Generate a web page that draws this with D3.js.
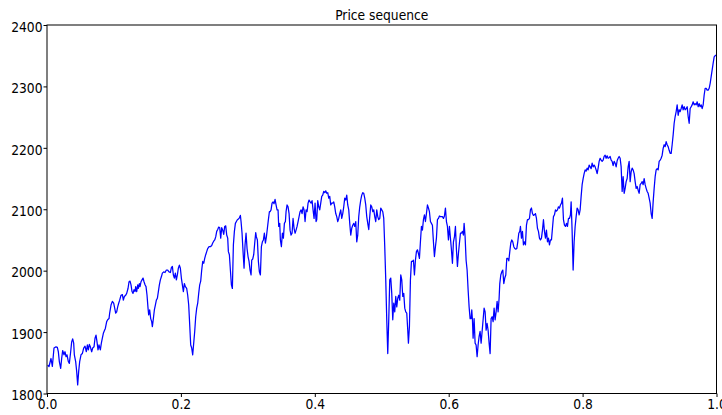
<!DOCTYPE html>
<html>
<head>
<meta charset="utf-8">
<script src="https://cdn.jsdelivr.net/npm/d3@7"></script>
<style>
  html, body { margin: 0; padding: 0; background: #fff; }
  svg { display: block; }
  text { font-family: "DejaVu Sans", sans-serif; fill: #000; }
</style>
</head>
<body>
<svg id="chart" width="722" height="415"></svg>
<script>
// Position of each price along the sequence, on a grid of STEP_COUNT steps.
const STEP_COUNT = 2008;
const steps = [
  2,6,12,16,21,27,31,34,37,41, 44,47,51,54,57,60,64,67,71,74,
  77,80,82,86,89,92,95,98,102,106, 110,114,118,121,124,127,130,134,137,141,
  144,147,150,153,156,160,163,166,169,172, 175,179,182,186,188,192,196,200,203,206,
  209,212,215,218,222,226,229,232,236,239, 243,246,249,252,255,258,261,264,266,269,
  272,274,277,279,282,285,288,291,294,297, 300,303,305,308,311,314,316,319,322,325,
  328,331,334,337,340,343,346,350,354,358, 362,366,370,373,376,379,382,385,388,391,
  394,397,400,403,406,409,412,415,419,422, 425,428,431,434,437,440,443,446,449,452,
  455,458,461,464,467,470,473,476,479,482, 486,490,494,497,500,503,506,509,512,515,
  518,521,524,527,530,533,536,539,542,544, 547,550,553,556,559,562,565,568,571,574,
  577,580,582,585,588,591,594,597,600,603, 606,609,612,614,617,620,623,626,628,631,
  634,637,640,643,646,649,652,655,658,661, 664,667,
  669,672,675,678,681,684,687,690,693,695, 698,700,703,706,709,712,715,717,720,723,
  726,729,732,735,738,741,744,747,750,753, 756,759,762,765,768,771,774,777,780,783,
  786,789,792,795,798,801,804,807,809,812, 815,818,821,824,827,830,833,836,839,842,
  845,848,851,854,857,860,863,866,869,872, 875,878,881,884,887,890,893,896,899,902,
  905,908,911,914,917,920,923,926,929,932, 935,938,941,944,947,950,953,956,959,962,
  965,968,971,974,977,980,983,986,989,992, 995,998,1001,1004,1007,1010,1013,1016,1019,1022,
  1025,1028,1031,1034,1037,1040,1043,1046,1049,1052, 1055,1058,1061,1064,1067,1070,1073,1076,1079,1082,
  1084,1087,1090,1093,1096,1099,1102,1105,1108,1111, 1114,1117,1120,1123,1126,1129,1132,1135,1138,1141,
  1144,1147,1150,1153,1156,1159,1162,1165,1168,1171, 1174,1177,1180,1183,1186,1189,1192,1195,1198,1201,
  1204,1207,1210,1213,1216,1219,1222,1225,1228,1231, 1234,1237,1240,1243,1246,1249,1251,1254,1257,1260,
  1263,1266,1269,1272,1274,1276,1278,1281,1284,1287, 1290,1293,1296,1299,1302,1305,1308,1311,1314,1317,
  1320,1323,1326,1329,
  1332,1335,1338,1341,1344,1347,1350,1353,1356,1358, 1361,1364,1367,1370,1373,1376,1379,1382,1385,1388,
  1391,1394,1397,1400,1403,1406,1409,1412,1415,1418, 1420,1423,1426,1429,1432,1435,1438,1441,1444,1447,
  1450,1453,1456,1459,1462,1465,1468,1471,1474,1477, 1480,1483,1486,1489,1492,1495,1498,1501,1504,1507,
  1510,1513,1516,1519,1522,1525,1528,1531,1534,1537, 1540,1543,1546,1549,1552,1555,1558,1561,1564,1567,
  1570,1572,1575,1578,1581,1584,1587,1590,1593,1596, 1599,1602,1605,1608,1611,1614,1617,1620,1623,1626,
  1629,1632,1635,1638,1641,1644,1647,1650,1653,1656, 1659,1662,1665,1668,1671,1674,1677,1680,1683,1686,
  1689,1692,1695,1698,1701,1704,1707,1710,1713,1716, 1719,1722,1725,1728,1731,1734,1737,1740,1743,1746,
  1749,1752,1755,1758,1761,1764,1767,1770,1773,1776, 1779,1782,1785,1788,1791,1794,1797,1800,1803,1806,
  1809,1812,1815,1818,1821,1824,1827,1830,1833,1836, 1839,1842,1845,1848,1851,1854,1857,1860,1863,1866,
  1869,1872,1875,1878,1881,1884,1887,1890,1893,1896, 1899,1902,1905,1908,1911,1914,1917,1920,1923,1926,
  1929,1932,1935,1938,1941,1944,1947,1950,1953,1956, 1959,1962,1965,1968,1971,1974,1977,1980,1983,1986,
  1989,1992,1995,1998,2001,2004,2007
];

// Price at each step.
const prices = [
  1846,1844,1857,1844,1874,1876,1875,1868,1852,1841, 1857,1870,1863,1868,1860,1863,1852,1849,1868,1884,
  1889,1882,1863,1852,1836,1814,1836,1852,1863,1865, 1874,1877,1868,1879,1871,1880,1876,1868,1874,1876,
  1890,1895,1884,1871,1879,1871,1882,1890,1898,1902, 1906,1917,1920,1922,1931,1944,1950,1947,1939,1931,
  1933,1941,1947,1952,1960,1961,1952,1958,1960,1963, 1971,1982,1983,1977,1966,1963,1969,1966,1974,1966,
  1977,1971,1979,1974,1982,1985,1988,1982,1977,1974, 1960,1939,1928,1936,1922,1917,1909,1922,1936,1944,
  1952,1955,1966,1977,1985,1990,1996,1998,1997,2001, 2001,1998,1997,2005,2007,1993,1988,1996,1985,1993,
  2004,2009,2004,1988,1977,1966,1979,1974,1971,1960, 1944,1912,1879,1874,1863,1882,1901,1925,1939,1947,
  1963,1977,1983,2001,2015,2012,2020,2026,2031,2036, 2039,2039,2041,2045,2048,2050,2055,2064,2067,2071,
  2070,2053,2070,2066,2059,2072,2073,2058,2053,2031, 2026,2001,1977,1971,2042,2064,2077,2080,2083,2084,
  2086,2090,2080,2061,2031,2004,2042,2061,2036,2023, 2015,2001,1993,2017,2019,2026,2045,2062,2055,2050,
  2015,1998,1993,2039,2047,2050,2061,2045,2055,2069, 2083,2096,
  2096,2099,2110,2112,2109,2116,2107,2099,2099,2072, 2077,2050,2039,2061,2053,2077,2080,2096,2107,2104,
  2093,2066,2058,2061,2085,2069,2061,2066,2072,2080, 2088,2096,2099,2093,2104,2099,2080,2099,2096,2110,
  2115,2112,2110,2114,2099,2085,2110,2080,2083,2114, 2104,2099,2110,2121,2123,2129,2127,2130,2126,2127,
  2118,2121,2107,2110,2110,2112,2104,2093,2088,2080, 2085,2093,2099,2085,2093,2104,2118,2115,2123,2107,
  2099,2077,2058,2069,2074,2077,2072,2080,2047,2058, 2088,2104,2115,2123,2127,2126,2118,2107,2088,2077,
  2067,2088,2107,2104,2096,2099,2088,2080,2099,2088, 2083,2085,2102,2099,2096,2085,2039,1985,1920,1865,
  1920,1985,1988,1963,1920,1947,1933,1958,1941,1955, 1960,1952,1993,1985,1958,1963,1939,1933,1931,1903,
  1882,1909,1985,2015,2015,2017,1993,2017,2031,2034, 2028,2020,2047,2072,2066,2083,2091,2080,2093,2107,
  2102,2096,2080,2077,2074,2047,2023,2039,2053,2083, 2085,2089,2088,2088,2088,2085,2089,2102,2080,2072,
  2050,2072,2053,2034,2012,2047,2055,2072,2034,2007, 2028,2045,2061,2061,2064,2058,2077,2055,2017,2001,
  1969,1941,1922,1922,1936,1920,1890,1922,1882,1879, 1860,1879,1893,1901,1882,1901,1920,1939,1933,1903,
  1914,1903,1882,1865,
  1922,1925,1917,1939,1920,1933,1950,1933,1955,1979, 1993,1998,2001,1979,1988,1993,2020,2020,2016,2031,
  2045,2050,2047,2039,2036,2035,2036,2047,2061,2064, 2072,2053,2064,2042,2047,2042,2074,2083,2083,2085,
  2099,2102,2093,2090,2091,2093,2085,2069,2064,2053, 2050,2053,2066,2083,2064,2053,2066,2047,2053,2042,
  2050,2050,2069,2088,2091,2099,2097,2099,2104,2102, 2107,2110,2118,2083,2074,2072,2077,2072,2085,2085,
  2091,2112,2064,2001,2047,2072,2088,2102,2099,2091, 2099,2121,2140,2150,2158,2164,2162,2167,2164,2172,
  2169,2166,2175,2169,2172,2169,2164,2158,2167,2178, 2183,2180,2178,2180,2186,2188,2183,2187,2183,2184,
  2186,2180,2178,2171,2178,2175,2169,2179,2183,2186, 2183,2169,2129,2153,2126,2134,2145,2150,2169,2178,
  2145,2161,2167,2164,2158,2145,2134,2137,2131,2126, 2140,2142,2145,2140,2150,2140,2134,2129,2126,2118,
  2110,2093,2085,2112,2134,2153,2164,2166,2164,2178, 2180,2183,2188,2199,2205,2202,2210,2205,2202,2196,
  2191,2191,2205,2221,2240,2251,2259,2270,2253,2262, 2259,2264,2270,2262,2267,2262,2264,2267,2251,2240,
  2264,2267,2270,2275,2270,2272,2270,2275,2267,2272, 2267,2270,2264,2270,2286,2297,2297,2294,2294,2297,
  2305,2316,2327,2338,2348,2350,2351
];

const xTicks = [0, 0.2, 0.4, 0.6, 0.8, 1.0];
const yTicks = [1800, 1900, 2000, 2100, 2200, 2300, 2400];
const title = "Price sequence";

const W = 722, H = 415;
const margin = { top: 25, right: 5.5, bottom: 21.5, left: 47 };
const iw = W - margin.left - margin.right;
const ih = H - margin.top - margin.bottom;
const textSqueeze = 0.88;

const svg = d3.select("#chart");
const g = svg.append("g").attr("transform", `translate(${margin.left},${margin.top})`);

const x = d3.scaleLinear().domain([0, 1]).range([0, iw]);
const y = d3.scaleLinear().domain([1800, 2400]).range([ih, 0]);

const series = prices.map((p, i) => ({ t: steps[i] / STEP_COUNT, p }));

g.append("path")
  .datum(series)
  .attr("fill", "none")
  .attr("stroke", "#0000ff")
  .attr("stroke-width", 1.25)
  .attr("stroke-linejoin", "round")
  .attr("d", d3.line().x(d => x(d.t)).y(d => y(d.p)));

// Axes frame
g.append("rect")
  .attr("x", 0).attr("y", 0).attr("width", iw).attr("height", ih)
  .attr("fill", "none").attr("stroke", "#000").attr("stroke-width", 1);

const xAxis = g.append("g")
  .attr("transform", `translate(0,${ih})`)
  .call(d3.axisBottom(x).tickValues(xTicks).tickFormat(d3.format(".1f")).tickSize(3.5).tickSizeOuter(0));
xAxis.select(".domain").remove();
xAxis.selectAll("text")
  .attr("y", 6)
  .attr("transform", `scale(${textSqueeze},1)`)
  .style("font-size", "14px");

const yAxis = g.append("g")
  .call(d3.axisLeft(y).tickValues(yTicks).tickFormat(d3.format("d")).tickSize(3.5).tickSizeOuter(0));
yAxis.select(".domain").remove();
yAxis.selectAll("text")
  .attr("x", -4.5 / textSqueeze)
  .attr("dy", "0.45em")
  .attr("transform", `scale(${textSqueeze},1)`)
  .style("font-size", "14px");

svg.selectAll(".tick line").attr("stroke", "#000");
svg.selectAll(".tick text").attr("font-family", "DejaVu Sans, sans-serif");

svg.append("text")
  .attr("transform", `translate(${margin.left + iw / 2},20) scale(${textSqueeze},1)`)
  .attr("text-anchor", "middle")
  .style("font-size", "14px")
  .text(title);
</script>
</body>
</html>
